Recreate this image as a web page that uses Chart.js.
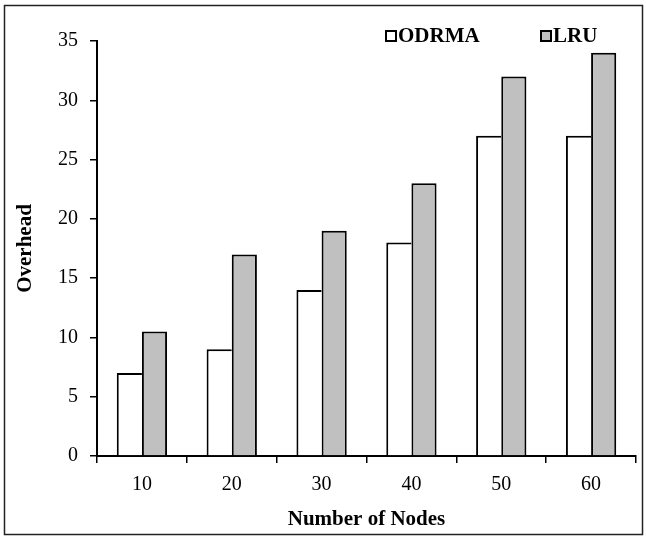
<!DOCTYPE html>
<html>
<head>
<meta charset="utf-8">
<script src="https://cdn.jsdelivr.net/npm/chart.js@4"></script>
<style>
  body { margin: 0; background: #fff; }
  #wrap { width: 646px; height: 536px; }
</style>
</head>
<body>
<div id="wrap"><canvas id="myChart" width="646" height="536"></canvas></div>
<script>
const categories = ['10', '20', '30', '40', '50', '60'];
const odrmaValues = [7, 9, 14, 18, 27, 27];
const lruValues = [10.5, 17, 19, 23, 32, 34];
const seriesNames = ['ODRMA', 'LRU'];
const seriesColors = ['#ffffff', '#c0c0c0'];

const ctx = document.querySelector("#myChart");
const serif = "'Liberation Serif', 'Times New Roman', serif";

// frame round the whole picture plus the legend inside the plot
const extras = {
    id: 'extras',
    afterDraw(chart) {
        const c = chart.ctx;
        c.save();
        c.strokeStyle = '#222';
        c.lineWidth = 1.5;
        c.strokeRect(4.5, 5.5, 638, 529);

        c.font = "bold 21px " + serif;
        c.textBaseline = 'middle';
        const xs = [386, 541];
        chart.data.datasets.forEach((ds, i) => {
            c.fillStyle = ds.backgroundColor;
            c.fillRect(xs[i], 31, 10, 10);
            c.strokeStyle = '#000';
            c.lineWidth = 2;
            c.strokeRect(xs[i], 31, 10, 10);
            c.fillStyle = '#000';
            c.fillText(ds.label, xs[i] + 12, 37);
        });
        c.restore();
    }
};

let myChart = new Chart(ctx, {
    type: 'bar',
    data: {
        labels: categories,
        datasets: [
            { label: seriesNames[0], data: odrmaValues, backgroundColor: seriesColors[0], borderColor: '#000',
              borderWidth: { left: 2, top: 2, right: 0, bottom: 0 } },
            { label: seriesNames[1], data: lruValues, backgroundColor: seriesColors[1], borderColor: '#000',
              borderWidth: { left: 2, top: 2, right: 2, bottom: 0 } }
        ]
    },
    options: {
        responsive: false,
        animation: false,
        layout: { padding: { left: 0, right: 10, top: 41, bottom: 0 } },
        datasets: { bar: { categoryPercentage: 0.56, barPercentage: 1 } },
        plugins: { legend: { display: false }, tooltip: { enabled: false } },
        scales: {
            x: {
                grid: { drawOnChartArea: false, color: '#000', tickLength: 7, lineWidth: 1.5 },
                border: { color: '#000', width: 2 },
                ticks: { color: '#000', font: { family: serif, size: 20 }, padding: 10 },
                title: { display: true, text: 'Number of Nodes', color: '#000',
                         font: { family: serif, size: 21, weight: 'bold' }, padding: { top: 0, bottom: 4 } },
                afterFit(scale) { scale.height = 80; }
            },
            y: {
                min: 0, max: 35,
                grid: { drawOnChartArea: false, color: '#000', tickLength: 7, lineWidth: 1.5 },
                border: { color: '#000', width: 2 },
                ticks: { stepSize: 5, color: '#000', font: { family: serif, size: 20 }, padding: 12 },
                title: { display: true, text: 'Overhead', color: '#000',
                         font: { family: serif, size: 21, weight: 'bold' }, padding: { top: 13, bottom: 0 } },
                afterFit(scale) { scale.width = 97; }
            }
        }
    },
    plugins: [extras]
});
</script>
</body>
</html>
